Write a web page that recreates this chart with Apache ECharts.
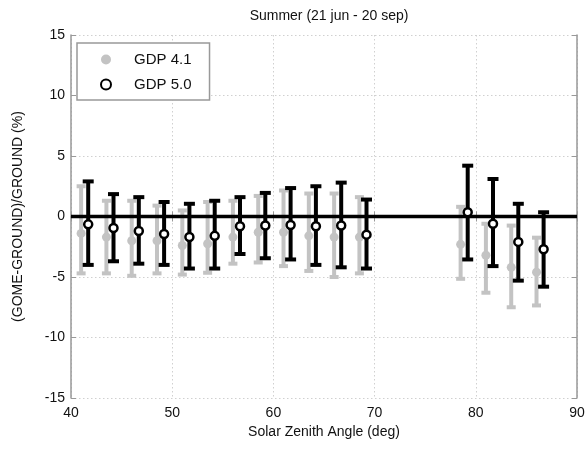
<!DOCTYPE html>
<html><head><meta charset="utf-8">
<script src="https://cdn.jsdelivr.net/npm/echarts@6/dist/echarts.min.js"></script>
<style>html,body{margin:0;padding:0;background:#fff}#c{width:588px;height:455px}</style>
</head><body><div id="c"></div>
<script>
const xTicks = [40, 50, 60, 70, 80, 90];
const yTicks = [-15, -10, -5, 0, 5, 10, 15];
const sza41 = [41.0,43.5,46.0,48.5,51.0,53.5,56.0,58.5,61.0,63.5,66.0,68.5,78.5,81.0,83.5,86.0];
const mean41 = [-1.4,-1.7,-2.0,-2.0,-2.4,-2.25,-1.7,-1.3,-1.3,-1.6,-1.7,-1.7,-2.3,-3.2,-4.2,-4.6];
const high41 = [2.5,1.3,1.3,0.9,0.5,1.2,1.3,1.7,2.15,1.9,1.9,1.6,0.8,-0.6,-0.75,-1.75];
const low41  = [-4.7,-4.7,-4.9,-4.7,-4.8,-4.65,-3.9,-3.8,-4.1,-4.5,-5.0,-4.7,-5.15,-6.3,-7.5,-7.35];
const sza50 = [41.7,44.2,46.7,49.2,51.7,54.2,56.7,59.2,61.7,64.2,66.7,69.2,79.2,81.7,84.2,86.7];
const mean50 = [-0.65,-0.95,-1.2,-1.45,-1.7,-1.6,-0.8,-0.75,-0.7,-0.8,-0.75,-1.5,0.35,-0.6,-2.1,-2.7];
const high50 = [2.9,1.85,1.6,1.2,1.05,1.3,1.6,1.95,2.35,2.5,2.8,1.4,4.2,3.1,1.05,0.35];
const low50  = [-4.0,-3.7,-3.9,-4.0,-4.3,-4.3,-3.1,-3.45,-3.55,-4.0,-4.2,-4.3,-3.55,-4.1,-5.3,-5.8];

const FONT = 'Liberation Sans';
const chart = echarts.init(document.getElementById('c'));

function errRender(color, lw, cap) {
  return function (params, api) {
    const x = api.value(0), lo = api.value(1), hi = api.value(2);
    const pl = api.coord([x, lo]), ph = api.coord([x, hi]);
    const st = { stroke: color, lineWidth: lw };
    return { type: 'group', children: [
      { type: 'line', shape: { x1: pl[0], y1: pl[1], x2: ph[0], y2: ph[1] }, style: st },
      { type: 'line', shape: { x1: pl[0] - cap, y1: pl[1], x2: pl[0] + cap, y2: pl[1] }, style: st },
      { type: 'line', shape: { x1: ph[0] - cap, y1: ph[1], x2: ph[0] + cap, y2: ph[1] }, style: st }
    ]};
  };
}

const gridLine = { show: true, lineStyle: { color: '#d0d0d0', type: [1.5, 2.5], width: 1 } };
const axLine = { show: true, lineStyle: { color: '#999', width: 1.5 } };
const labelStyle = { color: '#111', fontFamily: FONT, fontSize: 14 };

chart.setOption({
  animation: false,
  title: { text: 'Summer (21 jun - 20 sep)', left: 324, top: 4, textAlign: 'center',
    textStyle: { fontFamily: FONT, fontSize: 14, fontWeight: 'normal', color: '#111' } },
  grid: { left: 71, top: 35, right: 11, bottom: 57 },
  xAxis: [
    { type: 'value', min: 40, max: 90, interval: 10, position: 'bottom',
      name: 'Solar Zenith Angle (deg)', nameLocation: 'middle', nameGap: 27,
      nameTextStyle: labelStyle,
      axisLine: axLine, axisTick: { show: true, inside: true, length: 5, lineStyle: { color: '#999' } },
      axisLabel: Object.assign({ margin: 8, customValues: xTicks }, labelStyle),
      splitLine: gridLine },
    { type: 'value', min: 40, max: 90, interval: 10, position: 'top',
      axisLine: axLine, axisTick: { show: true, inside: true, length: 5, lineStyle: { color: '#999' } },
      axisLabel: { show: false }, splitLine: { show: false } }
  ],
  yAxis: [
    { type: 'value', min: -15, max: 15, interval: 5, position: 'left',
      name: '(GOME-GROUND)/GROUND (%)', nameLocation: 'middle', nameGap: 46, nameRotate: 90,
      nameTextStyle: labelStyle,
      axisLine: axLine, axisTick: { show: true, inside: true, length: 5, lineStyle: { color: '#999' } },
      axisLabel: Object.assign({ margin: 6, customValues: yTicks }, labelStyle),
      splitLine: gridLine },
    { type: 'value', min: -15, max: 15, interval: 5, position: 'right',
      axisLine: axLine, axisTick: { show: true, inside: true, length: 5, lineStyle: { color: '#999' } },
      axisLabel: { show: false }, splitLine: { show: false } }
  ],
  legend: {
    left: 77, top: 43, orient: 'vertical', itemGap: 10, itemWidth: 10, itemHeight: 10,
    padding: [9, 18, 8, 23],
    backgroundColor: '#fff', borderColor: '#999', borderWidth: 1.5,
    textStyle: { fontFamily: FONT, fontSize: 15, color: '#111', padding: [0, 0, 0, 18] },
    data: [{ name: 'GDP 4.1', icon: 'circle' }, { name: 'GDP 5.0', icon: 'circle' }]
  },
  series: [
    { type: 'custom', name: 'err41', renderItem: errRender('#c3c3c3', 4, 4.5), z: 2,
      data: sza41.map((x, i) => [x, low41[i], high41[i]]) },
    { type: 'scatter', name: 'GDP 4.1', symbol: 'circle', symbolSize: 9, z: 3,
      itemStyle: { color: '#c3c3c3', opacity: 1 },
      data: sza41.map((x, i) => [x, mean41[i]]) },
    { type: 'line', name: 'zero', data: [[40, 0], [90, 0]], symbol: 'none', z: 4,
      lineStyle: { color: '#000', width: 3.5 } },
    { type: 'custom', name: 'err50', renderItem: errRender('#000', 4, 5.5), z: 5,
      data: sza50.map((x, i) => [x, low50[i], high50[i]]) },
    { type: 'scatter', name: 'GDP 5.0', symbol: 'circle', symbolSize: 8, z: 6,
      itemStyle: { color: '#fff', borderColor: '#000', borderWidth: 2.5, opacity: 1 },
      data: sza50.map((x, i) => [x, mean50[i]]) }
  ]
});
</script></body></html>
